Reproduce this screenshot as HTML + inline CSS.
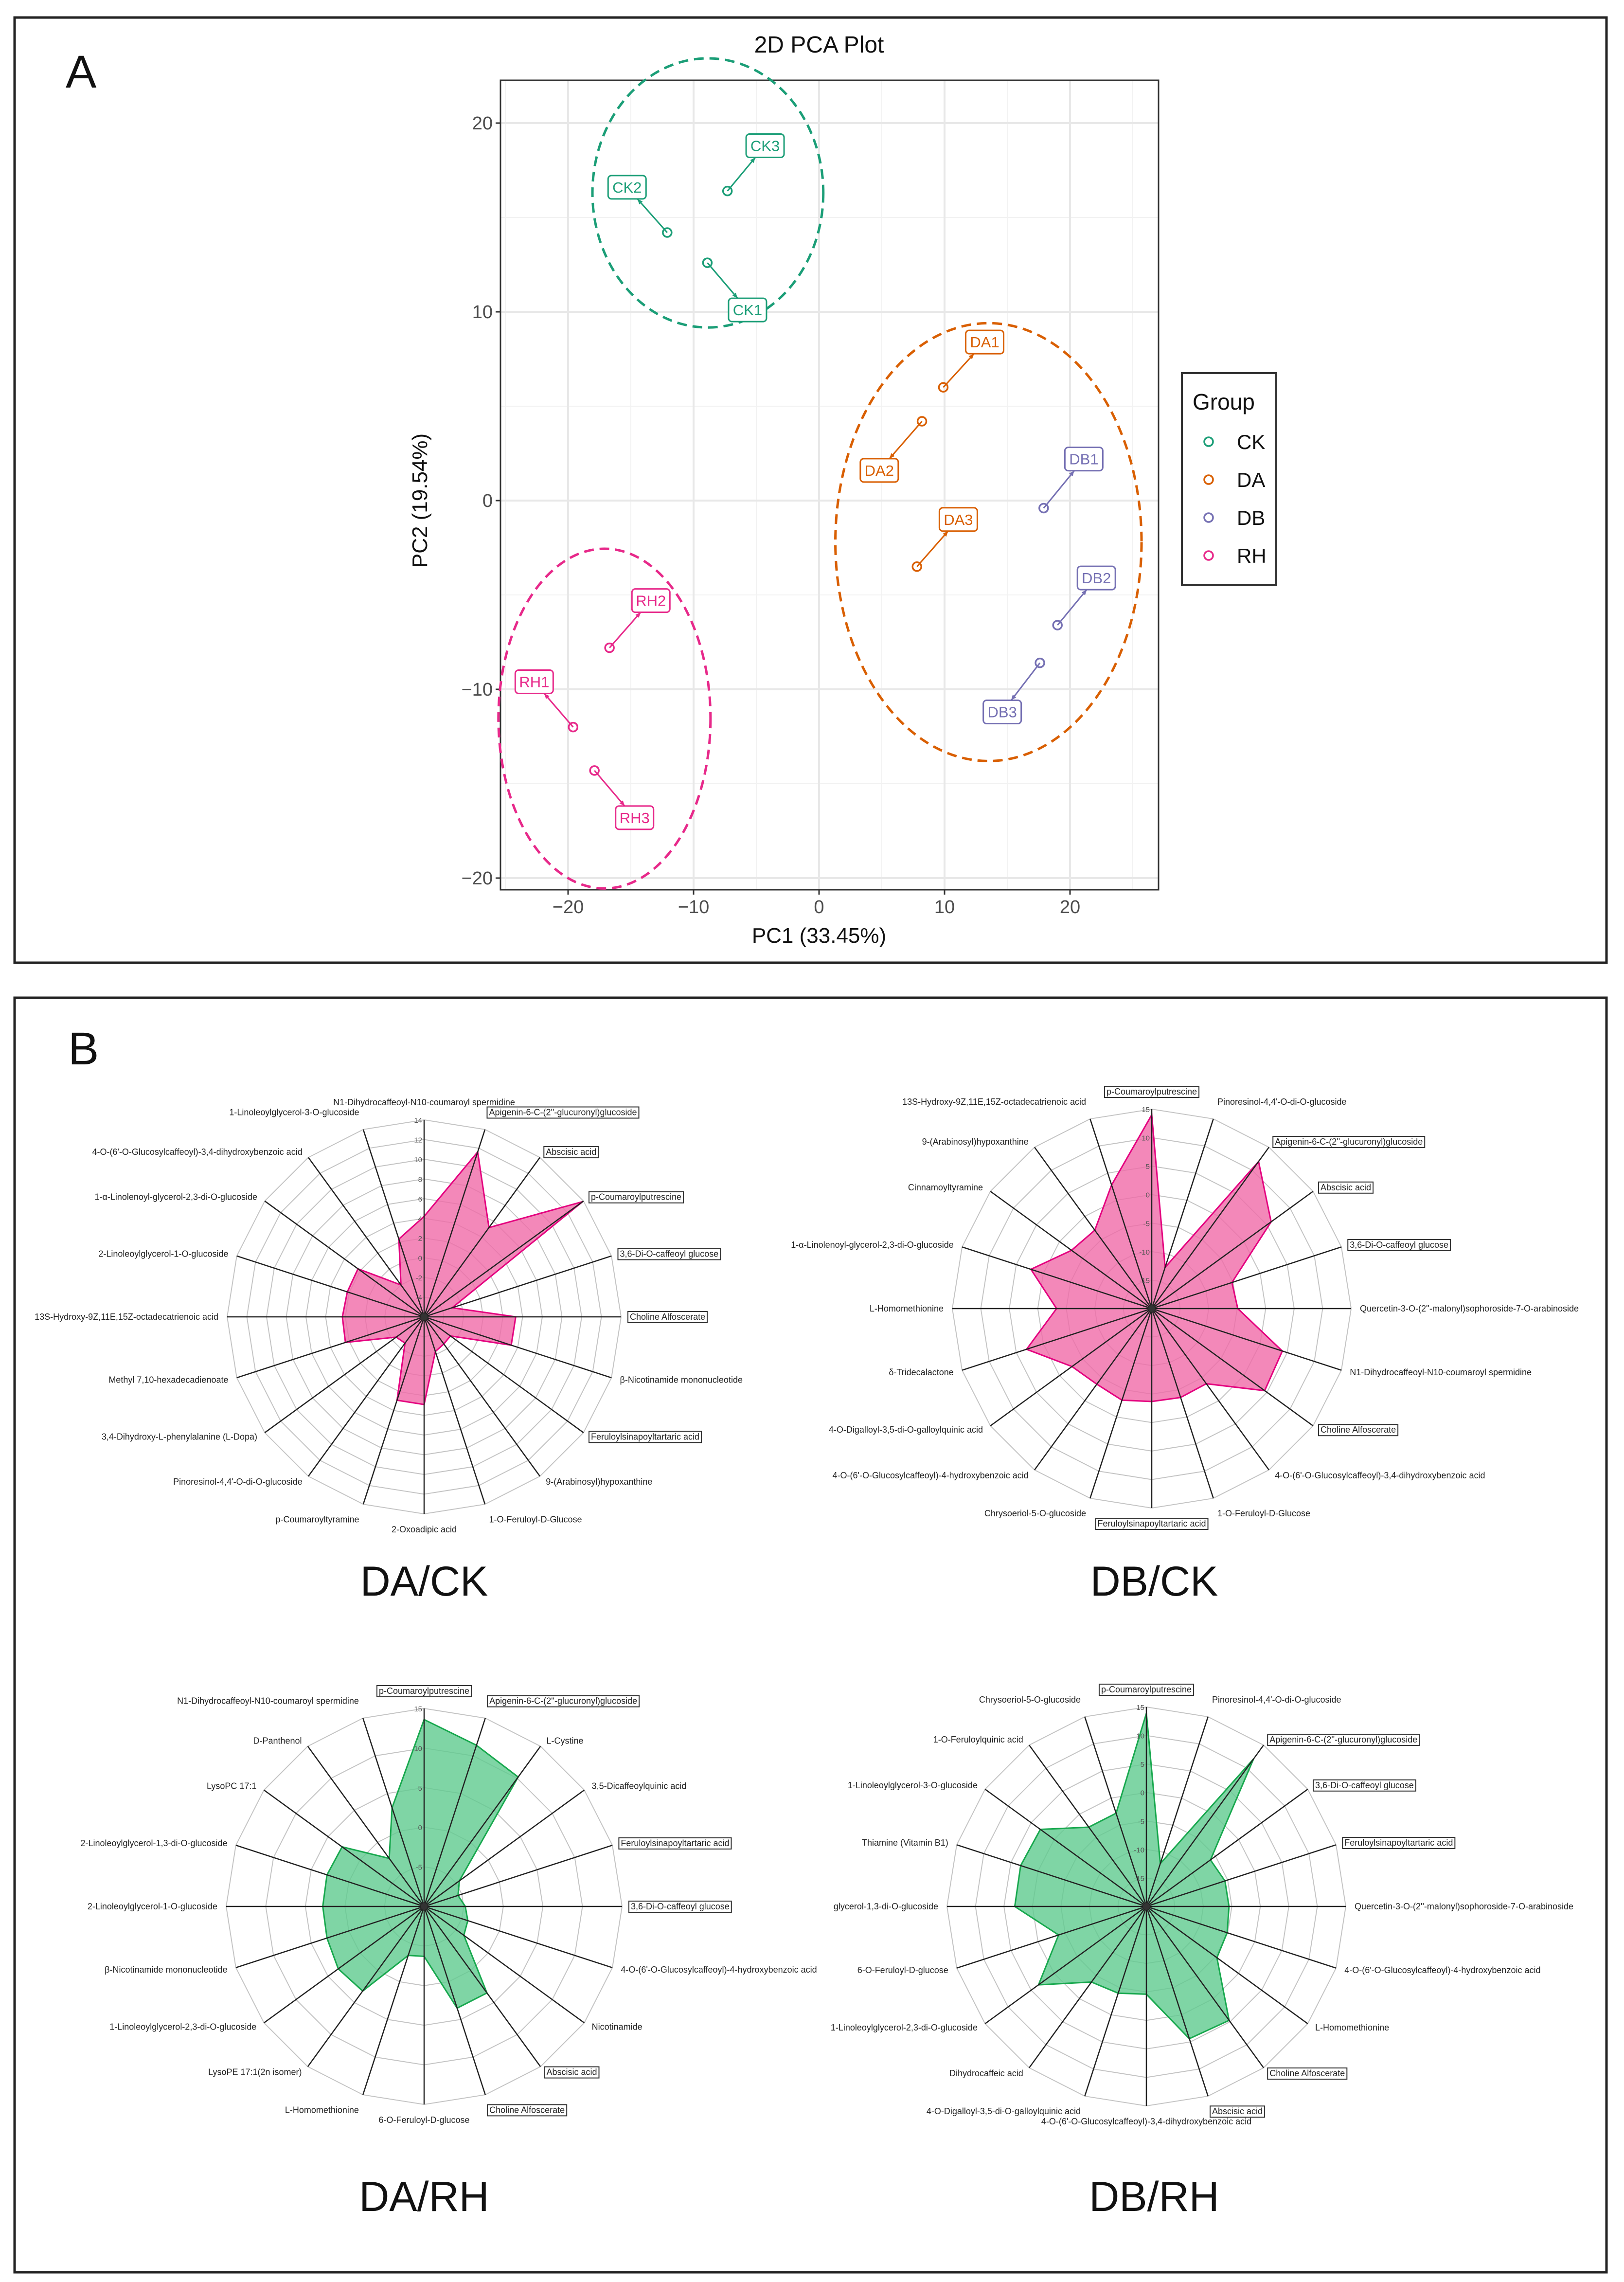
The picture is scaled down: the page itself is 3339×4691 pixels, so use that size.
<!DOCTYPE html>
<html><head><meta charset="utf-8"><style>
html,body{margin:0;padding:0;background:#fff;}
svg{display:block;font-family:"Liberation Sans",Arial,sans-serif;}
</style></head><body>
<svg id="root" width="3339" height="4691" viewBox="0 0 3339 4691" xmlns="http://www.w3.org/2000/svg">
<rect x="0" y="0" width="3339" height="4691" fill="#fff"/>
<rect x="30" y="36" width="3273" height="1943" fill="none" stroke="#222" stroke-width="5"/>
<rect x="30" y="2051" width="3273" height="2620" fill="none" stroke="#222" stroke-width="5"/>
<text x="135" y="180" font-size="95" fill="#111">A</text>
<text x="140" y="2188" font-size="95" fill="#111">B</text>
<g id="pca"></g>
<g id="radars"></g>
</svg>
<script>
// ---------- PCA data ----------
const sampleNames = ["CK1","CK2","CK3","DA1","DA2","DA3","DB1","DB2","DB3","RH1","RH2","RH3"];
const sampleGroups = ["CK","CK","CK","DA","DA","DA","DB","DB","DB","RH","RH","RH"];
const pc1Values = [-8.9,-12.1,-7.3,9.9,8.2,7.8,17.9,19.0,17.6,-19.6,-16.7,-17.9];
const pc2Values = [12.6,14.2,16.4,6.0,4.2,-3.5,-0.4,-6.6,-8.6,-12.0,-7.8,-14.3];
const labelPc1 = [-5.7,-15.3,-4.3,13.2,4.8,11.1,21.1,22.1,14.6,-22.7,-13.4,-14.7];
const labelPc2 = [10.1,16.6,18.8,8.4,1.6,-1.0,2.2,-4.1,-11.2,-9.6,-5.3,-16.8];
const groupNames = ["CK","DA","DB","RH"];
const groupColors = ["#1b9e77","#d95f02","#7570b3","#e7298a"];
const ellipseGroups = ["CK","DA","RH"];
const ellipseCx = [-8.86,13.5,-17.1];
const ellipseCy = [16.3,-2.2,-11.55];
const ellipseRx = [9.2,12.2,8.45];
const ellipseRy = [7.13,11.6,9.0];
const xTicks = [-20,-10,0,10,20];
const yTicks = [-20,-10,0,10,20];

const NS="http://www.w3.org/2000/svg";
function mk(tag,attrs,parent){const e=document.createElementNS(NS,tag);for(const k in attrs)e.setAttribute(k,attrs[k]);parent.appendChild(e);return e;}

const pca=document.getElementById('pca');
const PL=1029,PR=2382,PT=165,PB=1829;
const sx=v=>1684+25.8*v, sy=v=>1029-38.8*v;
mk('rect',{x:PL,y:PT,width:PR-PL,height:PB-PT,fill:'#fff'},pca);
[-25,-15,-5,5,15,25].forEach(v=>{const l=mk('line',{x1:sx(v),x2:sx(v),y1:PT,y2:PB,stroke:'#f2f2f2','stroke-width':2},pca);

});
[-15,-5,5,15].forEach(v=>{const l=mk('line',{y1:sy(v),y2:sy(v),x1:PL,x2:PR,stroke:'#f2f2f2','stroke-width':2},pca);

});
xTicks.forEach(v=>{const l=mk('line',{x1:sx(v),x2:sx(v),y1:PT,y2:PB,stroke:'#e8e8e8','stroke-width':4},pca);


const t=mk('line',{x1:sx(v),x2:sx(v),y1:PB,y2:PB+10,stroke:'#333','stroke-width':3},pca);


const tx=mk('text',{x:sx(v),y:PB+48,'font-size':38,fill:'#4d4d4d','text-anchor':'middle'},pca);tx.textContent=v===0?'0':String(v).replace('-','\u2212');

});
yTicks.forEach(v=>{const l=mk('line',{y1:sy(v),y2:sy(v),x1:PL,x2:PR,stroke:'#e8e8e8','stroke-width':4},pca);


const t=mk('line',{y1:sy(v),y2:sy(v),x1:PL-10,x2:PL,stroke:'#333','stroke-width':3},pca);


const tx=mk('text',{x:PL-16,y:sy(v)+13,'font-size':38,fill:'#4d4d4d','text-anchor':'end'},pca);tx.textContent=v===0?'0':String(v).replace('-','\u2212');

});
const border=mk('rect',{x:PL,y:PT,width:PR-PL,height:PB-PT,fill:'none',stroke:'#333','stroke-width':3},pca);


const colorOf=g=>groupColors[groupNames.indexOf(g)];
ellipseGroups.forEach((g,i)=>{const e=mk('ellipse',{cx:sx(ellipseCx[i]),cy:sy(ellipseCy[i]),rx:ellipseRx[i]*25.8,ry:ellipseRy[i]*38.8,fill:'none',stroke:colorOf(g),'stroke-width':5,'stroke-dasharray':'20 12'},pca);

});
const BW=39,BH=24;
sampleNames.forEach((n,i)=>{const c=colorOf(sampleGroups[i]);
const px=sx(pc1Values[i]),py=sy(pc2Values[i]),lx=sx(labelPc1[i]),ly=sy(labelPc2[i]);
const dx=px-lx,dy=py-ly;const t=Math.min(BW/Math.abs(dx||1e-6),BH/Math.abs(dy||1e-6));
const ex=lx+dx*t,ey=ly+dy*t;
const seg=mk('line',{x1:px,y1:py,x2:ex,y2:ey,stroke:c,'stroke-width':3},pca);


const ang=Math.atan2(ey-py,ex-px);
const ah=mk('polygon',{points:`${ex},${ey} ${ex-12*Math.cos(ang-0.4)},${ey-12*Math.sin(ang-0.4)} ${ex-12*Math.cos(ang+0.4)},${ey-12*Math.sin(ang+0.4)}`,fill:c},pca);


const pt=mk('circle',{cx:px,cy:py,r:9,fill:'none',stroke:c,'stroke-width':3.5},pca);


const bx=mk('rect',{x:lx-BW,y:ly-BH,width:2*BW,height:2*BH,rx:7,fill:'#fff',stroke:c,'stroke-width':3},pca);


const tx=mk('text',{x:lx,y:ly+11,'font-size':31,fill:c,'text-anchor':'middle'},pca);tx.textContent=n;

});
const title=mk('text',{x:1684,y:108,'font-size':48,fill:'#111','text-anchor':'middle'},pca);title.textContent='2D PCA Plot';


const xt=mk('text',{x:1684,y:1938,'font-size':44,fill:'#111','text-anchor':'middle'},pca);xt.textContent='PC1 (33.45%)';


const yt=mk('text',{x:0,y:0,'font-size':44,fill:'#111','text-anchor':'middle',transform:'translate(878,1029) rotate(-90)'},pca);yt.textContent='PC2 (19.54%)';


const lg=mk('g',{},pca);


mk('rect',{x:2430,y:767,width:194,height:436,fill:'#fff',stroke:'#333','stroke-width':4},lg);
const lt=mk('text',{x:2452,y:842,'font-size':46,fill:'#111'},lg);lt.textContent='Group';


groupNames.forEach((g,i)=>{const y=908+i*78;const e=mk('g',{},lg);


mk('circle',{cx:2485,cy:y,r:9,fill:'none',stroke:groupColors[i],'stroke-width':3.5},e);
const t=mk('text',{x:2543,y:y+15,'font-size':42,fill:'#111'},e);t.textContent=g;});

// ---------- Radar data ----------
const daCkLabels=["N1-Dihydrocaffeoyl-N10-coumaroyl spermidine","Apigenin-6-C-(2''-glucuronyl)glucoside","Abscisic acid","p-Coumaroylputrescine","3,6-Di-O-caffeoyl glucose","Choline Alfoscerate","β-Nicotinamide mononucleotide","Feruloylsinapoyltartaric acid","9-(Arabinosyl)hypoxanthine","1-O-Feruloyl-D-Glucose","2-Oxoadipic acid","p-Coumaroyltyramine","Pinoresinol-4,4'-O-di-O-glucoside","3,4-Dihydroxy-L-phenylalanine (L-Dopa)","Methyl 7,10-hexadecadienoate","13S-Hydroxy-9Z,11E,15Z-octadecatrienoic acid","2-Linoleoylglycerol-1-O-glucoside","1-α-Linolenoyl-glycerol-2,3-di-O-glucoside","4-O-(6'-O-Glucosylcaffeoyl)-3,4-dihydroxybenzoic acid","1-Linoleoylglycerol-3-O-glucoside"];
const daCkValues=[4.2,11.6,5.2,13.9,-3,3.3,3.3,-2.7,-2.6,-2.3,2.9,2.9,-2.7,-2.5,2.4,2.3,2.2,2.3,-2,2.3];
const daCkBoxed=[1,2,3,4,5,7];
const daCkTicks=[14,12,10,8,6,4,2,0,-2,-4];

const dbCkLabels=["p-Coumaroylputrescine","Pinoresinol-4,4'-O-di-O-glucoside","Apigenin-6-C-(2''-glucuronyl)glucoside","Abscisic acid","3,6-Di-O-caffeoyl glucose","Quercetin-3-O-(2''-malonyl)sophoroside-7-O-arabinoside","N1-Dihydrocaffeoyl-N10-coumaroyl spermidine","Choline Alfoscerate","4-O-(6'-O-Glucosylcaffeoyl)-3,4-dihydroxybenzoic acid","1-O-Feruloyl-D-Glucose","Feruloylsinapoyltartaric acid","Chrysoeriol-5-O-glucoside","4-O-(6'-O-Glucosylcaffeoyl)-4-hydroxybenzoic acid","4-O-Digalloyl-3,5-di-O-galloylquinic acid","δ-Tridecalactone","L-Homomethionine","1-α-Linolenoyl-glycerol-2,3-di-O-glucoside","Cinnamoyltyramine","9-(Arabinosyl)hypoxanthine","13S-Hydroxy-9Z,11E,15Z-octadecatrienoic acid"];
const dbCkValues=[14,-12.4,11.9,5.9,-5.2,-4.9,4.1,4.5,-3.7,-3.6,-3.7,-3.1,-3.6,-2.7,3.1,-3.3,2.3,-2.6,-3,2.8];
const dbCkBoxed=[0,2,3,4,7,10];
const dbCkTicks=[15,10,5,0,-5,-10,-15];

const daRhLabels=["p-Coumaroylputrescine","Apigenin-6-C-(2''-glucuronyl)glucoside","L-Cystine","3,5-Dicaffeoylquinic acid","Feruloylsinapoyltartaric acid","3,6-Di-O-caffeoyl glucose","4-O-(6'-O-Glucosylcaffeoyl)-4-hydroxybenzoic acid","Nicotinamide","Abscisic acid","Choline Alfoscerate","6-O-Feruloyl-D-glucose","L-Homomethionine","LysoPE 17:1(2n isomer)","1-Linoleoylglycerol-2,3-di-O-glucoside","β-Nicotinamide mononucleotide","2-Linoleoylglycerol-1-O-glucoside","2-Linoleoylglycerol-1,3-di-O-glucoside","LysoPC 17:1","D-Panthenol","N1-Dihydrocaffeoyl-N10-coumaroyl spermidine"];
const daRhValues=[13.6,11.4,10.2,-4.5,-5.5,-4.8,-4.2,-3.8,3.5,3.5,-3.7,-3.5,3.2,3.4,2.9,2.8,2.9,2.8,-2.5,3.1];
const daRhBoxed=[0,1,4,5,8,9];
const daRhTicks=[15,10,5,0,-5];

const dbRhLabels=["p-Coumaroylputrescine","Pinoresinol-4,4'-O-di-O-glucoside","Apigenin-6-C-(2''-glucuronyl)glucoside","3,6-Di-O-caffeoyl glucose","Feruloylsinapoyltartaric acid","Quercetin-3-O-(2''-malonyl)sophoroside-7-O-arabinoside","4-O-(6'-O-Glucosylcaffeoyl)-4-hydroxybenzoic acid","L-Homomethionine","Choline Alfoscerate","Abscisic acid","4-O-(6'-O-Glucosylcaffeoyl)-3,4-dihydroxybenzoic acid","4-O-Digalloyl-3,5-di-O-galloylquinic acid","Dihydrocaffeic acid","1-Linoleoylglycerol-2,3-di-O-glucoside","6-O-Feruloyl-D-glucose","glycerol-1,3-di-O-glucoside","Thiamine (Vitamin B1)","1-Linoleoylglycerol-3-O-glucoside","1-O-Feruloylquinic acid","Chrysoeriol-5-O-glucoside"];
const dbRhValues=[13.9,-12.1,12,-6.1,-5.5,-5.5,-5.1,-4.7,4.7,4.4,-4.6,-4,-3.6,3.4,-3.8,3.1,3.2,3,-2.8,-2.8];
const dbRhBoxed=[0,2,3,4,8,9];
const dbRhTicks=[15,10,5,0,-5,-10,-15];

const radarsEl=document.getElementById('radars');
function radar(id,cx,cy,R,labels,values,boxed,ticks,minV,maxV,step,fill,stroke,title,tx,ty){
  const g=mk('g',{},radarsEl);
  
  
  const n=labels.length;
  const rr=v=>(v-minV)/(maxV-minV)*R;
  const ang=i=>i*2*Math.PI/n;
  const P=(i,r)=>[cx+r*Math.sin(ang(i)),cy-r*Math.cos(ang(i))];
  for(let v=minV+step;v<=maxV+1e-9;v+=step){
    const pts=[];for(let i=0;i<n;i++)pts.push(P(i,rr(v)).join(','));
    const ring=mk('polygon',{points:pts.join(' '),fill:'none',stroke:'#c4c4c4','stroke-width':2},g);
    
    
  }
  const poly=[];for(let i=0;i<n;i++)poly.push(P(i,rr(values[i])).join(','));
  const area=mk('polygon',{points:poly.join(' '),fill:fill,'fill-opacity':0.8,stroke:stroke,'stroke-width':3,'stroke-linejoin':'miter'},g);
  
  
  for(let i=0;i<n;i++){const e=P(i,R);
    const sp=mk('line',{x1:cx,y1:cy,x2:e[0],y2:e[1],stroke:'#222','stroke-width':2.5},g);
    
    
    const s=Math.sin(ang(i)),c=Math.cos(ang(i));
    const lp=P(i,R+14);
    let anchor='middle';let x=lp[0],y=lp[1]+6;
    if(s>0.1){anchor='start';x+=4;}else if(s<-0.1){anchor='end';x-=4;}
    if(c>0.9)y-=22; else if(c<-0.9)y+=18;
    const t=mk('text',{x:x,y:y,'font-size':18,fill:'#222','text-anchor':anchor},g);
    t.textContent=labels[i];
    
    
    if(boxed.indexOf(i)>=0){
      const w=t.getComputedTextLength();let bx=anchor==='start'?x:(anchor==='end'?x-w:x-w/2);
      const b=mk('rect',{x:bx-4,y:y-17,width:w+8,height:23,fill:'none',stroke:'#333','stroke-width':2},g);
      
      
    }
  }
  ticks.forEach(v=>{const t=mk('text',{x:cx-4,y:cy-rr(v)+6,'font-size':15,fill:'#555','text-anchor':'end'},g);t.textContent=v;
    
    });
  const ct=mk('circle',{cx:cx,cy:cy,r:7,fill:'#333'},g);
  
  
  const tt=mk('text',{x:tx,y:ty,'font-size':86,fill:'#111','text-anchor':'middle'},g);tt.textContent=title;
  
  
}
radar('da-ck',872,2707,405,daCkLabels,daCkValues,daCkBoxed,daCkTicks,-6,14,2,'#f06aa8','#e4007f','DA/CK',872,3280);
radar('db-ck',2368,2690,410,dbCkLabels,dbCkValues,dbCkBoxed,dbCkTicks,-20,15,5,'#f06aa8','#e4007f','DB/CK',2373,3280);
radar('da-rh',872,3919,407,daRhLabels,daRhValues,daRhBoxed,daRhTicks,-10,15,5,'#5fca8e','#18a84e','DA/RH',872,4545);
radar('db-rh',2357,3919,410,dbRhLabels,dbRhValues,dbRhBoxed,dbRhTicks,-20,15,5,'#5fca8e','#18a84e','DB/RH',2373,4545);
</script>
</body></html>
